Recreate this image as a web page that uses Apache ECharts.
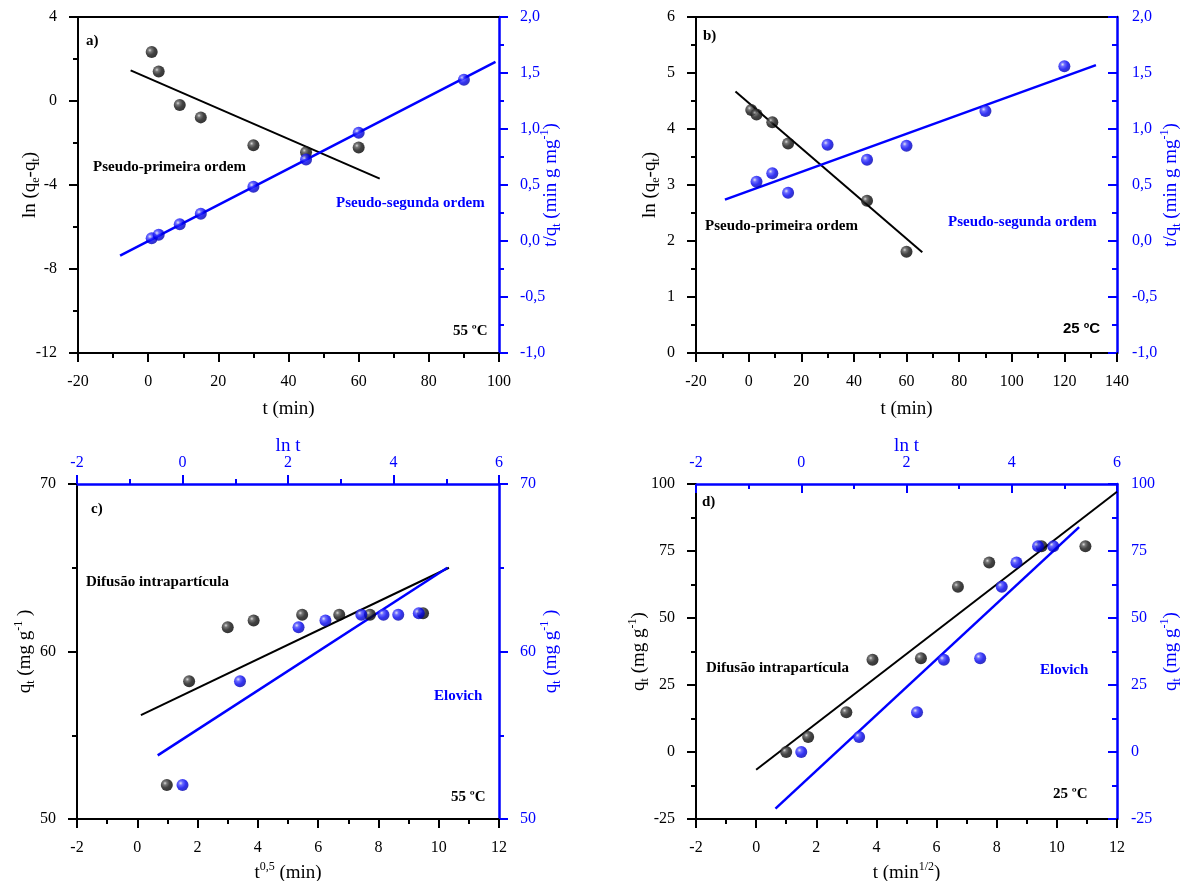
<!DOCTYPE html>
<html>
<head>
<meta charset="utf-8">
<script src="https://cdn.jsdelivr.net/npm/echarts@6/dist/echarts.min.js"></script>
</head>
<body style="margin:0;background:#fff">
<div id="main" style="width:1186px;height:881px"></div>
<script type="text/javascript">
// ---- dados ----
// a) 55 ºC
var tA1 = [1, 3, 9, 15, 30, 45, 60];
var lnqA = [2.33, 1.40, -0.19, -0.78, -2.11, -2.44, -2.21];
var tA2 = [1, 3, 9, 15, 30, 45, 60, 90];
var tqA = [0.024, 0.056, 0.149, 0.244, 0.485, 0.728, 0.966, 1.44];
var fitA1 = [[-5, 1.46], [66, -3.70]];
var fitA2 = [[-8, -0.13], [99, 1.60]];
// b) 25 ºC
var tB1 = [1, 3, 9, 15, 45, 60];
var lnqB = [4.34, 4.26, 4.12, 3.74, 2.72, 1.81];
var tB2 = [3, 9, 15, 30, 45, 60, 90, 120];
var tqB = [0.53, 0.605, 0.43, 0.86, 0.725, 0.85, 1.16, 1.56];
var fitB1 = [[-5, 4.67], [66, 1.80]];
var fitB2 = [[-9, 0.37], [132, 1.57]];
// c) 55 ºC
var sqC = [0.98, 1.72, 3.0, 3.86, 5.47, 6.70, 7.72, 9.48];
var lnC = [0, 1.09, 2.20, 2.71, 3.39, 3.81, 4.09, 4.48];
var qC = [52.03, 58.23, 61.45, 61.85, 62.19, 62.2, 62.2, 62.29];
var fitC1 = [[0.12, 56.2], [10.34, 65.0]];
var fitC2 = [[-0.47, 53.8], [5.02, 65.0]];
// d) 25 ºC
var sqD = [1.0, 1.73, 3.0, 3.87, 5.48, 6.71, 7.75, 9.49, 10.95];
var lnD = [0, 1.10, 2.20, 2.71, 3.40, 3.81, 4.09, 4.50, 4.79];
var qD = [0, 5.6, 14.8, 34.4, 35.0, 61.7, 70.7, 76.8, 76.8];
var fitD1 = [[0, -6.6], [12, 97.1]];
var fitD2 = [[-0.49, -21.1], [5.28, 83.9]];

var BLUE = '#0000ff';
var SERIF = 'Liberation Serif';

function pares(xs, ys) {
    return xs.map(function (x, i) { return [x, ys[i]]; });
}
function virgula(v) { return v.toFixed(1).replace('.', ','); }

var rich = {
    sub: { fontSize: 12, fontFamily: SERIF, verticalAlign: 'bottom', lineHeight: 12 },
    sup: { fontSize: 12, fontFamily: SERIF, verticalAlign: 'top', lineHeight: 12 }
};

// eixo genérico
function eixo(o) {
    var cor = o.cor || '#000';
    return {
        type: 'value', gridIndex: o.grid, position: o.pos,
        min: o.min, max: o.max, interval: o.step,
        name: o.nome || '', nameLocation: 'middle', nameGap: o.gap || 40,
        nameRotate: o.rot, nameMoveOverlap: false,
        nameTextStyle: { fontFamily: SERIF, fontSize: 19, color: cor, lineHeight: 24, rich: rich },
        axisLine: { show: true, onZero: false, lineStyle: { color: cor, width: o.lw || 2 } },
        axisTick: { show: o.ticks !== false, inside: !!o.inside, length: 9, lineStyle: { color: cor, width: 2 } },
        minorTick: { show: o.ticks !== false, splitNumber: 2, length: 5, lineStyle: { color: cor, width: 2 } },
        axisLabel: { show: o.labels !== false, margin: o.margin || 21, color: cor, fontFamily: SERIF, fontSize: 16,
            formatter: o.fmt },
        splitLine: { show: false }
    };
}

function bola(cor) {
    var stops = cor === 'blue'
        ? [{ offset: 0, color: '#dde' }, { offset: 0.25, color: '#4545ff' }, { offset: 0.6, color: '#0000ee' }, { offset: 1, color: '#0000a8' }]
        : [{ offset: 0, color: '#d0d0d0' }, { offset: 0.22, color: '#555' }, { offset: 0.55, color: '#141414' }, { offset: 1, color: '#000' }];
    return { color: { type: 'radial', x: 0.35, y: 0.35, r: 0.7, colorStops: stops } };
}
function pontos(xi, yi, dados, cor) {
    return { type: 'scatter', xAxisIndex: xi, yAxisIndex: yi, data: dados, symbolSize: 12,
        itemStyle: bola(cor), z: 4 };
}
function reta(xi, yi, dados, cor) {
    return { type: 'line', xAxisIndex: xi, yAxisIndex: yi, data: dados, showSymbol: false, silent: true,
        lineStyle: { color: cor === 'blue' ? BLUE : '#000', width: cor === 'blue' ? 2.5 : 2 }, z: 3 };
}
function texto(x, y, t, cor, fam) {
    return { type: 'text', x: x, y: y, z: 10,
        style: { text: t, fill: cor || '#000', font: 'bold 15px "' + (fam || SERIF) + '"', align: 'left', verticalAlign: 'middle' } };
}

var myChart = echarts.init(document.getElementById('main'));

var option = {
    animation: false,
    grid: [
        { left: 78, top: 17, width: 421, height: 336, outerBoundsMode: 'none' },
        { left: 696, top: 17, width: 421, height: 336, outerBoundsMode: 'none' },
        { left: 77, top: 484, width: 422, height: 335, outerBoundsMode: 'none' },
        { left: 696, top: 484, width: 421, height: 335, outerBoundsMode: 'none' }
    ],
    xAxis: [
        eixo({ grid: 0, pos: 'bottom', min: -20, max: 100, step: 20, nome: 't (min)', gap: 44 }),
        eixo({ grid: 0, pos: 'top', min: -20, max: 100, step: 20, ticks: false, labels: false }),
        eixo({ grid: 1, pos: 'bottom', min: -20, max: 140, step: 20, nome: 't (min)', gap: 44 }),
        eixo({ grid: 1, pos: 'top', min: -20, max: 140, step: 20, ticks: false, labels: false }),
        eixo({ grid: 2, pos: 'bottom', min: -2, max: 12, step: 2, nome: 't{sup|0,5} (min)', gap: 42 }),
        eixo({ grid: 2, pos: 'top', min: -2, max: 6, step: 2, nome: 'ln t', gap: 26, cor: BLUE, lw: 2.5, margin: 13 }),
        eixo({ grid: 3, pos: 'bottom', min: -2, max: 12, step: 2, nome: 't (min{sup|1/2})', gap: 42 }),
        eixo({ grid: 3, pos: 'top', min: -2, max: 6, step: 2, nome: 'ln t', gap: 26, cor: BLUE, lw: 2.5, inside: true, margin: 13 })
    ],
    yAxis: [
        eixo({ grid: 0, pos: 'left', min: -12, max: 4, step: 4, nome: 'ln (q{sub|e}-q{sub|t})', gap: 36, rot: 90 }),
        eixo({ grid: 0, pos: 'right', min: -1, max: 2, step: 0.5, nome: 't/q{sub|t} (min g mg{sup|-1})', gap: 40, rot: 90,
            cor: BLUE, lw: 2.5, fmt: virgula }),
        eixo({ grid: 1, pos: 'left', min: 0, max: 6, step: 1, nome: 'ln (q{sub|e}-q{sub|t})', gap: 34, rot: 90 }),
        eixo({ grid: 1, pos: 'right', min: -1, max: 2, step: 0.5, nome: 't/q{sub|t} (min g mg{sup|-1})', gap: 42, rot: 90,
            cor: BLUE, lw: 2.5, inside: true, margin: 15, fmt: virgula }),
        eixo({ grid: 2, pos: 'left', min: 50, max: 70, step: 10, nome: 'q{sub|t} (mg g{sup|-1} )', gap: 40, rot: 90 }),
        eixo({ grid: 2, pos: 'right', min: 50, max: 70, step: 10, nome: 'q{sub|t} (mg g{sup|-1} )', gap: 40, rot: 90,
            cor: BLUE, lw: 2.5 }),
        eixo({ grid: 3, pos: 'left', min: -25, max: 100, step: 25, nome: 'q{sub|t} (mg g{sup|-1})', gap: 45, rot: 90 }),
        eixo({ grid: 3, pos: 'right', min: -25, max: 100, step: 25, nome: 'q{sub|t} (mg g{sup|-1})', gap: 42, rot: 90,
            cor: BLUE, lw: 2.5, inside: true, margin: 14 })
    ],
    series: [
        reta(0, 0, fitA1, 'black'),
        pontos(0, 0, pares(tA1, lnqA), 'black'),
        reta(0, 1, fitA2, 'blue'),
        pontos(0, 1, pares(tA2, tqA), 'blue'),

        reta(2, 2, fitB1, 'black'),
        pontos(2, 2, pares(tB1, lnqB), 'black'),
        reta(2, 3, fitB2, 'blue'),
        pontos(2, 3, pares(tB2, tqB), 'blue'),

        reta(4, 4, fitC1, 'black'),
        pontos(4, 4, pares(sqC, qC), 'black'),
        reta(5, 5, fitC2, 'blue'),
        pontos(5, 5, pares(lnC, qC), 'blue'),

        reta(6, 6, fitD1, 'black'),
        pontos(6, 6, pares(sqD, qD), 'black'),
        reta(7, 7, fitD2, 'blue'),
        pontos(7, 7, pares(lnD, qD), 'blue')
    ],
    graphic: [
        texto(86, 41, 'a)'),
        texto(93, 167, 'Pseudo-primeira ordem'),
        texto(336, 203, 'Pseudo-segunda ordem', BLUE),
        texto(453, 331, '55 ºC'),

        texto(703, 36, 'b)'),
        texto(705, 226, 'Pseudo-primeira ordem'),
        texto(948, 222, 'Pseudo-segunda ordem', BLUE),
        texto(1063, 329, '25 ºC', '#000', 'Liberation Sans'),

        texto(91, 509, 'c)'),
        texto(86, 582, 'Difusão intrapartícula'),
        texto(434, 696, 'Elovich', BLUE),
        texto(451, 797, '55 ºC'),

        texto(702, 502, 'd)'),
        texto(706, 668, 'Difusão intrapartícula'),
        texto(1040, 670, 'Elovich', BLUE),
        texto(1053, 794, '25 ºC')
    ]
};

myChart.setOption(option);
</script>
</body>
</html>
